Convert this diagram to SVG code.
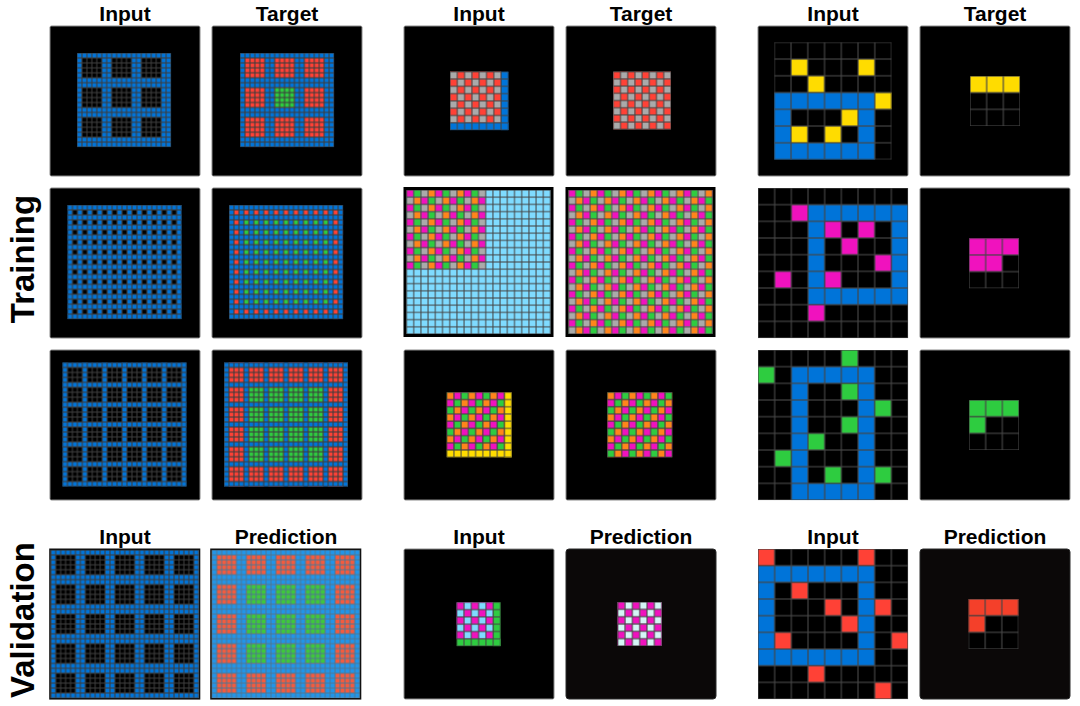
<svg xmlns="http://www.w3.org/2000/svg" width="1080" height="706" viewBox="0 0 1080 706">
<style>
.k{fill:#000}.b{fill:#0074D9}.r{fill:#FF4136}.g{fill:#2ECC40}.y{fill:#FFDC00}.m{fill:#F012BE}.o{fill:#FF851B}.s{fill:#AAAAAA}.c{fill:#7FDBFF}
.R{fill:#F4402A}
.pan{fill:#000;stroke:#8a8a8a;stroke-width:1}
.dk{fill:#0b0808;stroke:#2a2a2a;stroke-width:1}
.lbl{font-family:"Liberation Sans",Arial,sans-serif;font-weight:bold;font-size:21px;text-anchor:middle;fill:#000}
.side{font-family:"Liberation Sans",Arial,sans-serif;font-weight:bold;font-size:33px;text-anchor:middle;fill:#000}
</style>
<defs>
<pattern id="gA" width="1" height="1" patternUnits="userSpaceOnUse"><rect width="1" height="1" fill="none" stroke="#3c3c3c" stroke-width="0.22"/></pattern>
<pattern id="gP" width="1" height="1" patternUnits="userSpaceOnUse"><rect width="1" height="1" fill="none" stroke="#4f7592" stroke-width="0.2"/></pattern>
<pattern id="gB" width="1" height="1" patternUnits="userSpaceOnUse"><rect width="1" height="1" fill="none" stroke="#444" stroke-width="0.14"/></pattern>
<pattern id="gC" width="1" height="1" patternUnits="userSpaceOnUse"><rect width="1" height="1" fill="none" stroke="#454545" stroke-width="0.07"/></pattern>
<pattern id="b6k" width="6" height="6" patternUnits="userSpaceOnUse"><rect x="1" y="1" width="4" height="4" fill="#000"/></pattern>
<pattern id="b6r" width="6" height="6" patternUnits="userSpaceOnUse"><rect x="1" y="1" width="4" height="4" fill="#FF4136"/></pattern>
<pattern id="b6R" width="6" height="6" patternUnits="userSpaceOnUse"><rect x="1" y="1" width="4" height="4" fill="#F45B3E"/></pattern>
<pattern id="b6G" width="6" height="6" patternUnits="userSpaceOnUse"><rect x="1" y="1" width="4" height="4" fill="#3FC83C"/></pattern>
<pattern id="d2k" width="2" height="2" patternUnits="userSpaceOnUse"><rect x="1" y="1" width="1" height="1" fill="#000"/></pattern>
<pattern id="d2r" width="2" height="2" patternUnits="userSpaceOnUse"><rect x="1" y="1" width="1" height="1" fill="#FF4136"/></pattern>
<pattern id="d2g" width="2" height="2" patternUnits="userSpaceOnUse"><rect x="1" y="1" width="1" height="1" fill="#2ECC40"/></pattern>
<pattern id="q4k" width="4" height="4" patternUnits="userSpaceOnUse"><rect x="1" y="1" width="3" height="3" fill="#000"/></pattern>
<pattern id="q4r" width="4" height="4" patternUnits="userSpaceOnUse"><rect x="1" y="1" width="3" height="3" fill="#FF4136"/></pattern>
<pattern id="q4g" width="4" height="4" patternUnits="userSpaceOnUse"><rect x="1" y="1" width="3" height="3" fill="#2ECC40"/></pattern>
<pattern id="ckOdd" width="2" height="2" patternUnits="userSpaceOnUse"><rect x="1" width="1" height="1" fill="#FF4136"/><rect y="1" width="1" height="1" fill="#FF4136"/></pattern>
<pattern id="ckEven" width="2" height="2" patternUnits="userSpaceOnUse"><rect width="1" height="1" fill="#FF4136"/><rect x="1" y="1" width="1" height="1" fill="#FF4136"/></pattern>
<pattern id="ckV" width="2" height="2" patternUnits="userSpaceOnUse"><rect x="1" width="1" height="1" fill="#7FDBFF"/><rect y="1" width="1" height="1" fill="#7FDBFF"/></pattern>
<pattern id="ckP" width="2" height="2" patternUnits="userSpaceOnUse"><rect x="1" width="1" height="1" fill="#D4F6F6"/><rect y="1" width="1" height="1" fill="#D4F6F6"/></pattern>
<pattern id="diag" width="4" height="2" patternUnits="userSpaceOnUse">
<rect x="0" y="0" width="1" height="1" fill="#F012BE"/><rect x="1" y="0" width="1" height="1" fill="#2ECC40"/><rect x="2" y="0" width="1" height="1" fill="#AAAAAA"/><rect x="3" y="0" width="1" height="1" fill="#FF851B"/>
<rect x="0" y="1" width="1" height="1" fill="#AAAAAA"/><rect x="1" y="1" width="1" height="1" fill="#FF851B"/><rect x="2" y="1" width="1" height="1" fill="#F012BE"/><rect x="3" y="1" width="1" height="1" fill="#2ECC40"/>
</pattern>
<pattern id="tri" width="3" height="3" patternUnits="userSpaceOnUse">
<rect x="0" y="0" width="1" height="1" fill="#FF851B"/><rect x="1" y="0" width="1" height="1" fill="#F012BE"/><rect x="2" y="0" width="1" height="1" fill="#2ECC40"/>
<rect x="0" y="1" width="1" height="1" fill="#F012BE"/><rect x="1" y="1" width="1" height="1" fill="#2ECC40"/><rect x="2" y="1" width="1" height="1" fill="#FF851B"/>
<rect x="0" y="2" width="1" height="1" fill="#2ECC40"/><rect x="1" y="2" width="1" height="1" fill="#FF851B"/><rect x="2" y="2" width="1" height="1" fill="#F012BE"/>
</pattern>
</defs>
<rect width="1080" height="706" fill="#fff"/>

<g id="labels">
<text class="lbl" x="125" y="21">Input</text><text class="lbl" x="287" y="21">Target</text>
<text class="lbl" x="479" y="21">Input</text><text class="lbl" x="641" y="21">Target</text>
<text class="lbl" x="833" y="21">Input</text><text class="lbl" x="995" y="21">Target</text>
<text class="lbl" x="125" y="544">Input</text><text class="lbl" x="286" y="544">Prediction</text>
<text class="lbl" x="479" y="544">Input</text><text class="lbl" x="641" y="544">Prediction</text>
<text class="lbl" x="833" y="544">Input</text><text class="lbl" x="995" y="544">Prediction</text>
<text class="side" transform="translate(34,259) rotate(-90)">Training</text>
<text class="side" transform="translate(34,620) rotate(-90)">Validation</text>
</g>

<g id="panels">
<rect class="pan" x="50" y="26" width="150" height="150" rx="1.5"/><rect class="pan" x="212" y="26" width="150" height="150" rx="1.5"/>
<rect class="pan" x="404" y="26" width="150" height="150" rx="1.5"/><rect class="pan" x="566" y="26" width="150" height="150" rx="1.5"/>
<rect class="pan" x="758" y="26" width="150" height="150" rx="1.5"/><rect class="pan" x="920" y="26" width="150" height="150" rx="1.5"/>
<rect class="pan" x="50" y="188" width="150" height="150" rx="1.5"/><rect class="pan" x="212" y="188" width="150" height="150" rx="1.5"/>
<rect class="pan" x="920" y="188" width="150" height="150" rx="1.5"/>
<rect class="pan" x="50" y="350" width="150" height="150" rx="1.5"/><rect class="pan" x="212" y="350" width="150" height="150" rx="1.5"/>
<rect class="pan" x="404" y="350" width="150" height="150" rx="1.5"/><rect class="pan" x="566" y="350" width="150" height="150" rx="1.5"/>
<rect class="pan" x="920" y="350" width="150" height="150" rx="1.5"/>
<rect class="pan" x="404" y="549" width="150" height="150" rx="1.5"/>
<rect class="dk" x="566" y="549" width="150" height="150" rx="3"/>
<rect class="dk" x="920" y="549" width="150" height="150" rx="3"/>
</g>

<!-- Task 1 -->
<g id="t1-r1-in" transform="translate(77,53) scale(4.95)">
<rect class="b" width="19" height="19"/><rect width="19" height="19" fill="url(#b6k)"/><rect width="19" height="19" fill="url(#gA)"/>
</g>
<g id="t1-r1-tgt" transform="translate(240,53) scale(4.95)">
<rect class="b" width="19" height="19"/><rect width="19" height="19" fill="url(#b6r)"/><rect class="g" x="7" y="7" width="4" height="4"/><rect width="19" height="19" fill="url(#gA)"/>
</g>
<g id="t1-r2-in" transform="translate(67.5,205) scale(4.96)">
<rect class="b" width="23" height="23"/><rect width="23" height="23" fill="url(#d2k)"/><rect width="23" height="23" fill="url(#gA)"/>
</g>
<g id="t1-r2-tgt" transform="translate(229,205) scale(4.96)">
<rect class="b" width="23" height="23"/><rect width="23" height="23" fill="url(#d2r)"/><rect x="3" y="3" width="17" height="17" fill="url(#d2g)"/><rect width="23" height="23" fill="url(#gA)"/>
</g>
<g id="t1-r3-in" transform="translate(62.5,362.5) scale(4.96)">
<rect class="b" width="25" height="25"/><rect width="25" height="25" fill="url(#q4k)"/><rect width="25" height="25" fill="url(#gA)"/>
</g>
<g id="t1-r3-tgt" transform="translate(224,362.5) scale(4.96)">
<rect class="b" width="25" height="25"/><rect width="25" height="25" fill="url(#q4r)"/><rect x="5" y="5" width="16" height="16" fill="url(#q4g)"/><rect width="25" height="25" fill="url(#gA)"/>
</g>
<g id="t1-val-in">
<g transform="translate(50.8,550) scale(4.93)">
<rect class="b" width="30" height="30"/><rect width="30" height="30" fill="url(#b6k)"/><rect width="30" height="30" fill="url(#gA)"/>
</g>
<rect x="50" y="549.3" width="149.5" height="149.5" fill="none" stroke="#111" stroke-width="1.6"/>
</g>
<g id="t1-val-pred">
<g transform="translate(211.8,550) scale(4.93)">
<rect width="30" height="30" fill="#2295E8"/><rect width="30" height="30" fill="url(#b6R)"/><rect x="7" y="7" width="16" height="16" fill="url(#b6G)"/><rect width="30" height="30" fill="url(#gP)"/>
</g>
<rect x="211" y="549.3" width="149.5" height="149.5" fill="none" stroke="#111" stroke-width="1.6"/>
</g>

<!-- Task 2 -->
<g id="t2-r1-in" transform="translate(450,71.7) scale(7.3)">
<rect class="s" width="7" height="7"/><rect width="7" height="7" fill="url(#ckOdd)"/><rect class="b" x="7" width="1" height="8"/><rect class="b" y="7" width="8" height="1"/><rect width="8" height="8" fill="url(#gB)"/>
</g>
<g id="t2-r1-tgt" transform="translate(613.3,71.7) scale(7.2)">
<rect class="s" width="8" height="8"/><rect width="8" height="8" fill="url(#ckEven)"/><rect width="8" height="8" fill="url(#gB)"/>
</g>
<g id="t2-r2-in">
<g transform="translate(406.5,190) scale(7.2)">
<rect class="c" width="20" height="20"/><rect width="11" height="11" fill="url(#diag)"/><rect width="20" height="20" fill="url(#gB)"/>
</g>
<rect x="405" y="188.5" width="147" height="147" fill="none" stroke="#000" stroke-width="3"/>
</g>
<g id="t2-r2-tgt">
<g transform="translate(568.5,190) scale(7.2)">
<rect width="20" height="20" fill="url(#diag)"/><rect width="20" height="20" fill="url(#gB)"/>
</g>
<rect x="567" y="188.5" width="147" height="147" fill="none" stroke="#000" stroke-width="3"/>
</g>
<g id="t2-r3-in" transform="translate(446.7,392.3) scale(7.22)">
<rect width="8" height="8" fill="url(#tri)"/><rect class="y" x="8" width="1" height="9"/><rect class="y" y="8" width="9" height="1"/><rect width="9" height="9" fill="url(#gB)"/>
</g>
<g id="t2-r3-tgt" transform="translate(607.3,392.3) scale(7.22)">
<rect width="9" height="9" fill="url(#tri)"/><rect width="9" height="9" fill="url(#gB)"/>
</g>
<g id="t2-val-in" transform="translate(456.7,602.3) scale(7.3)">
<rect class="m" width="5" height="5"/><rect width="5" height="5" fill="url(#ckV)"/><rect class="g" x="5" width="1" height="6"/><rect class="g" y="5" width="6" height="1"/><rect width="6" height="6" fill="url(#gB)"/>
</g>
<g id="t2-val-pred" transform="translate(617.7,602) scale(7.33)">
<rect class="m" width="6" height="6"/><rect width="6" height="6" fill="url(#ckP)"/><rect width="6" height="6" fill="url(#gB)"/>
</g>

<!-- Task 3 -->
<g id="t3-r1-in" transform="translate(774.3,42.3) scale(16.75)">
<rect class="k" width="7" height="7"/>
<rect class="b" x="0" y="3" width="6" height="4"/><rect class="k" x="1" y="4" width="4" height="2"/>
<rect class="y" x="1" y="1" width="1" height="1"/><rect class="y" x="5" y="1" width="1" height="1"/><rect class="y" x="2" y="2" width="1" height="1"/>
<rect class="y" x="6" y="3" width="1" height="1"/><rect class="y" x="4" y="4" width="1" height="1"/><rect class="y" x="1" y="5" width="1" height="1"/><rect class="y" x="3" y="5" width="1" height="1"/>
<rect width="7" height="7" fill="url(#gC)"/>
</g>
<g id="t3-r1-tgt" transform="translate(970,76) scale(16.67)">
<rect class="k" width="3" height="3"/><rect class="y" width="3" height="1"/><rect width="3" height="3" fill="url(#gC)"/>
</g>
<g id="t3-r2-in" transform="translate(758,188) scale(16.67)">
<rect class="k" width="9" height="9"/>
<rect class="b" x="3" y="1" width="6" height="6"/><rect class="k" x="4" y="2" width="4" height="4"/>
<rect class="m" x="2" y="1" width="1" height="1"/><rect class="m" x="4" y="2" width="1" height="1"/><rect class="m" x="6" y="2" width="1" height="1"/>
<rect class="m" x="5" y="3" width="1" height="1"/><rect class="m" x="7" y="4" width="1" height="1"/><rect class="m" x="1" y="5" width="1" height="1"/>
<rect class="m" x="4" y="5" width="1" height="1"/><rect class="m" x="3" y="7" width="1" height="1"/>
<rect width="9" height="9" fill="url(#gC)"/>
</g>
<g id="t3-r2-tgt" transform="translate(969,238.3) scale(16.67)">
<rect class="k" width="3" height="3"/><rect class="m" width="3" height="1"/><rect class="m" y="1" width="2" height="1"/><rect width="3" height="3" fill="url(#gC)"/>
</g>
<g id="t3-r3-in" transform="translate(758,350) scale(16.67)">
<rect class="k" width="9" height="9"/>
<rect class="b" x="2" y="1" width="5" height="8"/><rect class="k" x="3" y="2" width="3" height="6"/>
<rect class="g" x="5" y="0" width="1" height="1"/><rect class="g" x="0" y="1" width="1" height="1"/><rect class="g" x="5" y="2" width="1" height="1"/>
<rect class="g" x="7" y="3" width="1" height="1"/><rect class="g" x="5" y="4" width="1" height="1"/><rect class="g" x="3" y="5" width="1" height="1"/>
<rect class="g" x="1" y="6" width="1" height="1"/><rect class="g" x="4" y="7" width="1" height="1"/><rect class="g" x="7" y="7" width="1" height="1"/>
<rect width="9" height="9" fill="url(#gC)"/>
</g>
<g id="t3-r3-tgt" transform="translate(969,400) scale(16.67)">
<rect class="k" width="3" height="3"/><rect class="g" width="3" height="1"/><rect class="g" y="1" width="1" height="1"/><rect width="3" height="3" fill="url(#gC)"/>
</g>
<g id="t3-val-in" transform="translate(758,549) scale(16.67)">
<rect class="k" width="9" height="9"/>
<rect class="b" x="0" y="1" width="7" height="6"/><rect class="k" x="1" y="2" width="5" height="4"/>
<rect class="r" x="0" y="0" width="1" height="1"/><rect class="r" x="6" y="0" width="1" height="1"/><rect class="r" x="2" y="2" width="1" height="1"/>
<rect class="r" x="4" y="3" width="1" height="1"/><rect class="r" x="7" y="3" width="1" height="1"/><rect class="r" x="5" y="4" width="1" height="1"/>
<rect class="r" x="1" y="5" width="1" height="1"/><rect class="r" x="8" y="5" width="1" height="1"/><rect class="r" x="3" y="7" width="1" height="1"/><rect class="r" x="7" y="8" width="1" height="1"/>
<rect width="9" height="9" fill="url(#gC)"/>
</g>
<g id="t3-val-pred" transform="translate(968.5,599) scale(16.67)">
<rect class="k" width="3" height="3"/><rect class="R" width="3" height="1"/><rect class="R" y="1" width="1" height="1"/><rect width="3" height="3" fill="url(#gC)"/>
</g>
</svg>
